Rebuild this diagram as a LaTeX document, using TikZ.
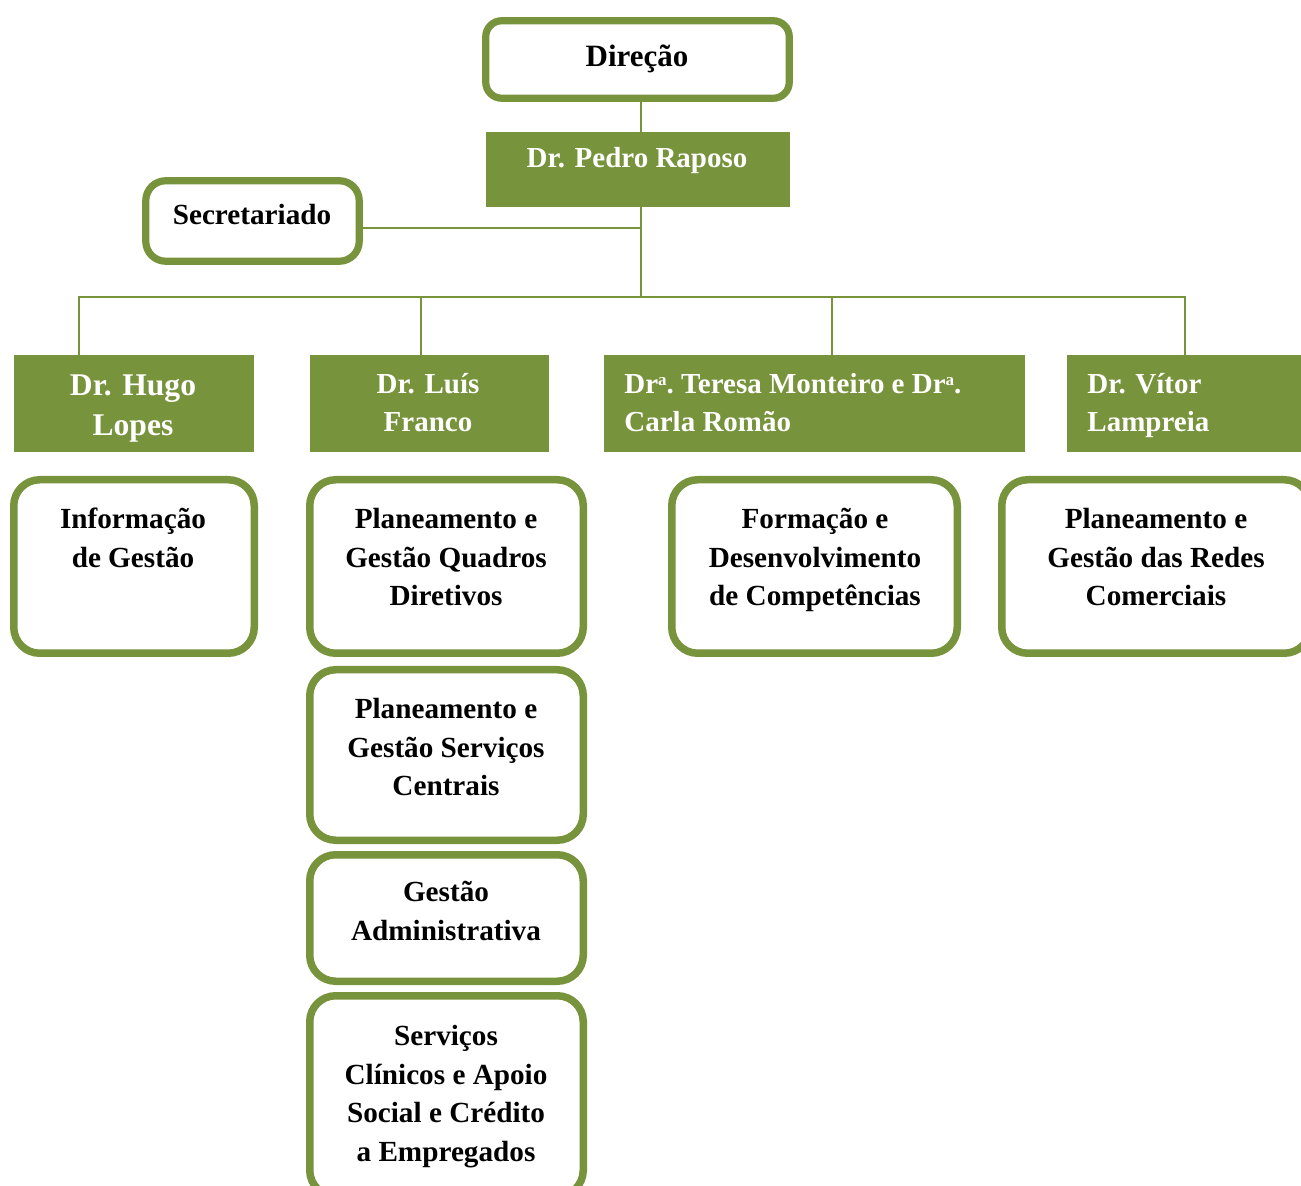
\documentclass[tikz,border=0pt]{standalone}
\usepackage{fontspec}
\setmainfont{Liberation Serif}
\definecolor{og}{HTML}{77933C}
\newcommand{\supa}{\raisebox{0.62ex}{\fontsize{8.5}{8.5}\selectfont a}}
\tikzset{
  rbox/.style={draw=og, line width=3.75pt, fill=white, rounded corners=13pt, inner sep=0pt},
  sbox/.style={draw=og, line width=3.6pt, fill=white, rounded corners=8pt, inner sep=0pt},
  gbox/.style={fill=og, draw=none, inner sep=0pt},
  txt/.style={inner sep=0pt, anchor=north, align=center, font=\bfseries\fontsize{14.6}{19.35}\selectfont},
  wtxt/.style={inner sep=0pt, text=white, font=\bfseries\fontsize{14.5}{19}\selectfont},
  conn/.style={draw=og, line width=1pt},
}
\begin{document}
\begin{tikzpicture}[x=0.5pt,y=-0.5pt]
\path[use as bounding box] (0,0) rectangle (1301,1186);
\clip (0,0) rectangle (1301,1186);
\fill[white] (0,0) rectangle (1301,1186);

% boxes
\node[sbox, minimum width=151.75pt, minimum height=38.75pt] (dir) at (637.5,59.5) {};
\node[gbox, minimum width=152pt, minimum height=37.5pt] (ped) at (638,169.5) {};
\node[sbox, rounded corners=10pt, minimum width=106.75pt, minimum height=40.25pt] (sec) at (252.5,221) {};

\node[gbox, minimum width=120pt, minimum height=48.5pt] (hugo) at (134,403.5) {};
\node[gbox, minimum width=119.5pt, minimum height=48.5pt] (luis) at (429.5,403.5) {};
\node[gbox, minimum width=210.5pt, minimum height=48.5pt] (ter) at (814.5,403.5) {};
\node[gbox, minimum width=121.5pt, minimum height=48.5pt] (vit) at (1188.5,403.5) {};

\node[rbox, minimum width=120.25pt, minimum height=86.75pt] (info) at (134,566.5) {};
\node[rbox, minimum width=136.75pt, minimum height=86.75pt] (quad) at (446.5,566.5) {};
\node[rbox, minimum width=142.75pt, minimum height=86.75pt] (form) at (814.5,566.5) {};
\node[rbox, minimum width=154.25pt, minimum height=86.75pt] (redes) at (1156,566.5) {};
\node[rbox, minimum width=136.75pt, minimum height=85.25pt] (cent) at (446.5,755) {};
\node[rbox, minimum width=136.75pt, minimum height=63.25pt] (adm) at (446.5,918) {};
\node[rbox, minimum width=136.75pt, minimum height=100.25pt] (clin) at (446.5,1096) {};

% connectors
\coordinate (j0) at (641,297);
\coordinate (js) at (641,228);
\coordinate (b1) at (79,297);
\coordinate (b2) at (421,297);
\coordinate (b3) at (832,297);
\coordinate (b4) at (1185,297);
\draw[conn] (dir.south -| j0) -- (ped.north -| j0);
\draw[conn] (ped.south -| j0) -- (j0);
\draw[conn] (sec.east |- js) -- (js);
\draw[conn] (b1 |- hugo.north) -- (b1) -- (b4) -- (b4 |- vit.north);
\draw[conn] (b2) -- (b2 |- luis.north);
\draw[conn] (b3) -- (b3 |- ter.north);

% texts
\node[inner sep=0pt, anchor=base, font=\bfseries\fontsize{15.5}{19}\selectfont] (dirt) at (637,67) {Direção};
\node[wtxt, anchor=base] (pedt) at (637,168) {Dr. Pedro Raposo};
\node[txt, anchor=base] (sect) at (252,225) {Secretariado};

\node[wtxt, anchor=north, align=center, font=\bfseries\fontsize{15.8}{20}\selectfont] (hugot) at (133,367) {\strut Dr. Hugo\\Lopes};
\node[wtxt, anchor=north, align=center] (luist) at (428,366.4) {\strut Dr. Luís\\Franco};
\node[wtxt, anchor=north west, align=left] (tert) at (624,366.4) {\strut Dr\supa.\ Teresa Monteiro e Dr\supa.\\Carla Romão};
\node[wtxt, anchor=north west, align=left] (vitt) at (1087,366.4) {\strut Dr. Vítor\\Lampreia};

\node[txt] (infot) at (133,500.9) {\strut Informação\\de Gestão};
\node[txt] (quadt) at (446,500.9) {\strut Planeamento e\\Gestão Quadros\\Diretivos};
\node[txt] (formt) at (815,500.9) {\strut Formação e\\Desenvolvimento\\de Competências};
\node[txt] (redest) at (1156,500.9) {\strut Planeamento e\\Gestão das Redes\\Comerciais};
\node[txt] (centt) at (446,690.9) {\strut Planeamento e\\Gestão Serviços\\Centrais};
\node[txt] (admt) at (446,873.9) {\strut Gestão\\Administrativa};
\node[txt] (clint) at (446,1017.9) {\strut Serviços\\Clínicos e Apoio\\Social e Crédito\\a Empregados};
\end{tikzpicture}
\end{document}
